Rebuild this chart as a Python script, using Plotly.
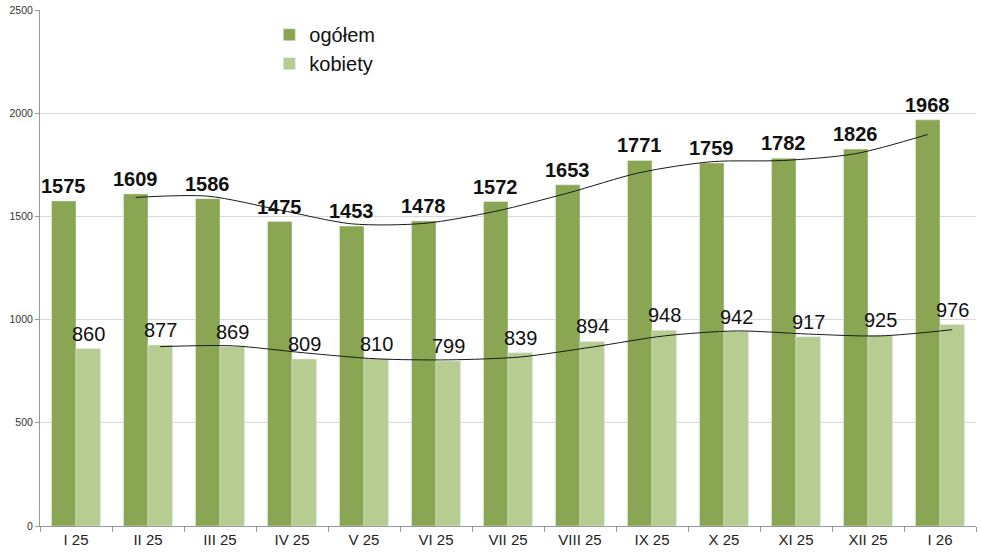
import plotly.graph_objects as go

categories = ["I 25", "II 25", "III 25", "IV 25", "V 25", "VI 25", "VII 25",
              "VIII 25", "IX 25", "X 25", "XI 25", "XII 25", "I 26"]
ogolem = [1575, 1609, 1586, 1475, 1453, 1478, 1572, 1653, 1771, 1759, 1782, 1826, 1968]
kobiety = [860, 877, 869, 809, 810, 799, 839, 894, 948, 942, 917, 925, 976]
# trend lines (2-period moving average)
trend_ogolem = [None, 1592, 1598, 1531, 1464, 1466, 1525, 1613, 1712, 1765, 1771, 1804, 1897]
trend_kobiety = [None, 869, 873, 839, 810, 805, 819, 867, 921, 945, 930, 921, 951]

DARK = "#8BA653"
LIGHT = "#B6CC91"
FONT = "Liberation Sans, Arial, sans-serif"
OFF = 0.17
idx = list(range(len(categories)))

fig = go.Figure()
fig.add_trace(go.Bar(x=categories, y=ogolem, name="ogółem", marker_color=DARK,
                     hoverinfo="skip"))
fig.add_trace(go.Bar(x=categories, y=kobiety, name="kobiety", marker_color=LIGHT,
                     hoverinfo="skip"))
fig.add_trace(go.Scatter(x=[i - OFF for i in idx], y=trend_ogolem, xaxis="x2",
                         mode="lines", line=dict(color="#1a1a1a", width=1, shape="spline",
                                                 smoothing=0.8),
                         showlegend=False, hoverinfo="skip"))
fig.add_trace(go.Scatter(x=[i + OFF for i in idx], y=trend_kobiety, xaxis="x2",
                         mode="lines", line=dict(color="#1a1a1a", width=1, shape="spline",
                                                 smoothing=0.8),
                         showlegend=False, hoverinfo="skip"))

annotations = []
for i, v in enumerate(ogolem):
    annotations.append(dict(x=i - OFF, y=v, xref="x2", yref="y", text=f"<b>{v}</b>",
                            showarrow=False, yanchor="bottom", yshift=2,
                            font=dict(family=FONT, size=20, color="#111111")))
for i, v in enumerate(kobiety):
    annotations.append(dict(x=i + OFF, y=v, xref="x2", yref="y", text=str(v),
                            showarrow=False, yanchor="bottom", yshift=2,
                            font=dict(family=FONT, size=20, color="#111111")))

fig.update_layout(
    width=981, height=555,
    margin=dict(l=40, r=5, t=10, b=29),
    paper_bgcolor="white", plot_bgcolor="white",
    barmode="group", bargap=0.32, bargroupgap=0,
    font=dict(family=FONT, color="#222222"),
    showlegend=True,
    legend=dict(x=0.245, y=0.99, xanchor="left", yanchor="top",
                font=dict(family=FONT, size=20, color="#111111"),
                bgcolor="rgba(0,0,0,0)", itemwidth=30, tracegroupgap=0),
    xaxis=dict(type="category", range=[-0.5, 12.5], showgrid=False,
               showline=True, linecolor="#999999", linewidth=1,
               ticks="outside", tickson="boundaries", ticklen=5, tickcolor="#999999",
               tickfont=dict(family=FONT, size=15, color="#222222")),
    xaxis2=dict(type="linear", range=[-0.5, 12.5], overlaying="x", visible=False),
    yaxis=dict(range=[0, 2500], dtick=500, showgrid=True, gridcolor="#d9d9d9",
               gridwidth=1, zeroline=False, showline=True, linecolor="#999999",
               linewidth=1, ticks="outside", ticklen=4, tickcolor="#999999",
               ticklabeloverflow="allow",
               tickfont=dict(family=FONT, size=10.5, color="#333333")),
    annotations=annotations,
)

fig.write_html("out.html", config={"displayModeBar": False},
               post_script="document.body.style.margin='0';")
